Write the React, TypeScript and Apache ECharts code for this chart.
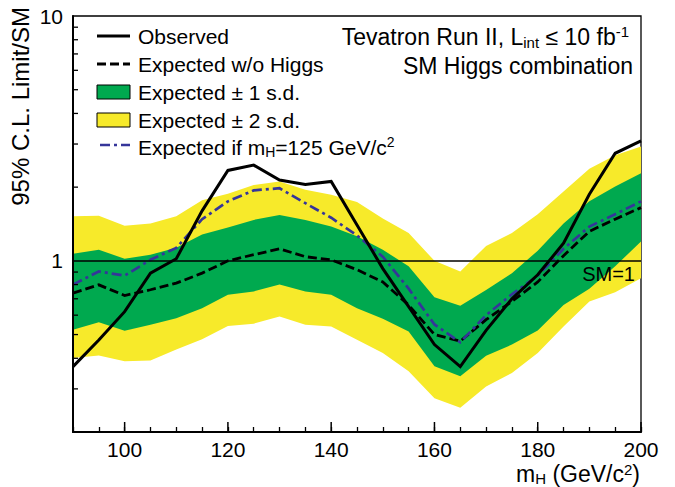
import React, { useEffect, useRef } from "react";
import * as echarts from "echarts";

// Higgs mass points (GeV/c^2)
const masses = [90, 95, 100, 105, 110, 115, 120, 125, 130, 135, 140, 145, 150, 155, 160, 165, 170, 175, 180, 185, 190, 195, 200];
// 95% CL limit / SM
const observed = [0.37, 0.475, 0.62, 0.89, 1.02, 1.6, 2.34, 2.46, 2.14, 2.05, 2.11, 1.4, 0.93, 0.65, 0.455, 0.37, 0.52, 0.7, 0.877, 1.18, 1.87, 2.75, 3.09];
const expected = [0.738, 0.798, 0.722, 0.762, 0.811, 0.891, 1.0, 1.06, 1.12, 1.04, 1.01, 0.92, 0.82, 0.66, 0.5, 0.47, 0.575, 0.683, 0.82, 1.05, 1.32, 1.48, 1.65];
const expH125 = [0.8, 0.905, 0.87, 1.01, 1.13, 1.48, 1.75, 1.94, 1.98, 1.72, 1.5, 1.27, 1.04, 0.77, 0.55, 0.465, 0.6, 0.73, 0.87, 1.12, 1.38, 1.55, 1.75];
const band1Hi = [1.07, 1.11, 1.02, 1.06, 1.13, 1.28, 1.37, 1.47, 1.54, 1.47, 1.38, 1.26, 1.11, 0.95, 0.71, 0.655, 0.76, 0.89, 1.1, 1.42, 1.75, 2.01, 2.28];
const band1Lo = [0.523, 0.561, 0.518, 0.548, 0.583, 0.641, 0.727, 0.75, 0.8, 0.75, 0.727, 0.641, 0.58, 0.515, 0.371, 0.338, 0.41, 0.455, 0.52, 0.66, 0.77, 0.95, 1.2];
const band2Hi = [1.52, 1.53, 1.39, 1.42, 1.52, 1.77, 1.88, 2.04, 2.11, 1.95, 1.86, 1.74, 1.49, 1.3, 1.0, 0.905, 1.15, 1.3, 1.55, 1.92, 2.38, 2.7, 2.93];
const band2Lo = [0.401, 0.411, 0.389, 0.392, 0.434, 0.479, 0.542, 0.554, 0.593, 0.548, 0.54, 0.476, 0.42, 0.354, 0.275, 0.251, 0.307, 0.348, 0.42, 0.54, 0.683, 0.745, 0.85];

// axis ticks
const xLabelTicks = [100, 120, 140, 160, 180, 200];
const yLabelTicks = [1, 10];
const yMinorTicks = [0.3, 0.4, 0.5, 0.6, 0.7, 0.8, 0.9, 2, 3, 4, 5, 6, 7, 8, 9];

const FONT = "'Liberation Sans', Arial, Helvetica, sans-serif";
const GREEN = "#00a94f";
const YELLOW = "#f7ea2a";
const BLUE = "#35359a";

function bandRenderer(lo: number[], hi: number[], color: string) {
  return (params: any, api: any) => {
    if (params.dataIndex !== 0) return null;
    const top = masses.map((m, i) => api.coord([m, hi[i]]));
    const bot = masses.map((m, i) => api.coord([m, lo[i]])).reverse();
    return {
      type: "polygon",
      shape: { points: top.concat(bot) },
      style: { fill: color },
    };
  };
}

function tickRenderer(params: any, api: any) {
  if (params.dataIndex !== 0) return null;
  const children: any[] = [];
  yMinorTicks.forEach((v) => {
    const p = api.coord([masses[0], v]);
    children.push({
      type: "line",
      shape: { x1: p[0], y1: p[1], x2: p[0] + 5, y2: p[1] },
      style: { stroke: "#000", lineWidth: 1.3 },
    });
  });
  xLabelTicks.forEach((m) => {
    const p = api.coord([m, 0.2]);
    children.push({
      type: "line",
      shape: { x1: p[0], y1: p[1], x2: p[0], y2: p[1] - 10 },
      style: { stroke: "#000", lineWidth: 1.5 },
    });
  });
  return { type: "group", children };
}

const toPairs = (vals: number[]) => masses.map((m, i) => [m, vals[i]]);

const subSup = (size: number) => ({
  sub: { fontSize: size, lineHeight: 10, verticalAlign: "bottom", fontFamily: FONT, fill: "#000" },
  sup: { fontSize: size, lineHeight: 10, verticalAlign: "top", fontFamily: FONT, fill: "#000" },
});

export default function App() {
  const ref = useRef<HTMLDivElement>(null);
  useEffect(() => {
    if (!ref.current) return;
    const chart = echarts.init(ref.current, null, { renderer: "svg" });
    const legendX1 = 97;
    const legendX2 = 130;
    const textX = 138;
    const option: any = {
      animation: false,
      backgroundColor: "#fff",
      textStyle: { fontFamily: FONT },
      grid: {
        left: 73,
        right: 34,
        top: 16,
        bottom: 55,
        show: true,
        borderColor: "#000",
        borderWidth: 1.3,
        backgroundColor: "transparent",
        outerBoundsMode: "none",
      },
      xAxis: {
        type: "value",
        min: 90,
        max: 200,
        interval: 5,
        position: "bottom",
        z: 10,
        axisLine: { show: true, onZero: false, lineStyle: { color: "#000", width: 2 } },
        axisTick: { show: true, inside: true, length: 5, lineStyle: { color: "#000", width: 1.3 } },
        axisLabel: {
          color: "#000",
          fontSize: 21,
          fontFamily: FONT,
          margin: 7,
          formatter: (v: number) => (xLabelTicks.indexOf(v) >= 0 ? String(v) : ""),
        },
        splitLine: { show: false },
      },
      yAxis: {
        type: "log",
        logBase: 10,
        min: 0.2,
        max: 10,
        z: 10,
        axisLine: { show: true, lineStyle: { color: "#000", width: 2 } },
        axisTick: { show: false },
        axisLabel: {
          color: "#000",
          fontSize: 21,
          fontFamily: FONT,
          margin: 10,
          formatter: (v: number) => {
            const r = Math.round(v * 1000) / 1000;
            return yLabelTicks.indexOf(r) >= 0 ? String(r) : "";
          },
        },
        splitLine: { show: false },
      },
      series: [
        {
          name: "Expected ± 2 s.d.",
          type: "custom",
          clip: true,
          z: 1,
          renderItem: bandRenderer(band2Lo, band2Hi, YELLOW),
          data: masses.map((m, i) => [m, band2Lo[i], band2Hi[i]]),
          encode: { x: 0, y: [1, 2] },
        },
        {
          name: "Expected ± 1 s.d.",
          type: "custom",
          clip: true,
          z: 2,
          renderItem: bandRenderer(band1Lo, band1Hi, GREEN),
          data: masses.map((m, i) => [m, band1Lo[i], band1Hi[i]]),
          encode: { x: 0, y: [1, 2] },
        },
        {
          name: "Expected w/o Higgs",
          type: "line",
          z: 3,
          symbol: "none",
          data: toPairs(expected),
          lineStyle: { color: "#000", width: 2.8, type: [9, 4], join: "miter" },
          markLine: {
            silent: true,
            symbol: "none",
            label: { show: false },
            lineStyle: { color: "#000", width: 1.5, type: "solid" },
            data: [{ yAxis: 1 }],
          },
        },
        {
          name: "Expected if mH=125 GeV/c2",
          type: "line",
          z: 4,
          symbol: "none",
          data: toPairs(expH125),
          lineStyle: { color: BLUE, width: 2.7, type: [10, 4, 3, 4], join: "miter" },
        },
        {
          name: "Observed",
          type: "line",
          z: 5,
          symbol: "none",
          data: toPairs(observed),
          lineStyle: { color: "#000", width: 3, join: "miter" },
        },
        {
          name: "ticks",
          type: "custom",
          clip: false,
          z: 6,
          renderItem: tickRenderer,
          data: [[masses[0], 1]],
          encode: { x: 0, y: 1 },
        },
      ],
      graphic: [
        // legend
        { type: "line", shape: { x1: legendX1, y1: 36, x2: legendX2, y2: 36 }, style: { stroke: "#000", lineWidth: 3 } },
        { type: "text", x: textX, y: 36, style: { text: "Observed", fontSize: 21, fontFamily: FONT, fill: "#000", verticalAlign: "middle" } },
        { type: "line", shape: { x1: legendX1, y1: 64, x2: legendX2, y2: 64 }, style: { stroke: "#000", lineWidth: 2.8, lineDash: [9, 4] } },
        { type: "text", x: textX, y: 64, style: { text: "Expected w/o Higgs", fontSize: 21, fontFamily: FONT, fill: "#000", verticalAlign: "middle" } },
        { type: "rect", shape: { x: legendX1, y: 85, width: legendX2 - legendX1, height: 14 }, style: { fill: GREEN, stroke: "#000", lineWidth: 1 } },
        { type: "text", x: textX, y: 92, style: { text: "Expected ± 1 s.d.", fontSize: 21, fontFamily: FONT, fill: "#000", verticalAlign: "middle" } },
        { type: "rect", shape: { x: legendX1, y: 113, width: legendX2 - legendX1, height: 14 }, style: { fill: YELLOW, stroke: "#000", lineWidth: 1 } },
        { type: "text", x: textX, y: 120, style: { text: "Expected ± 2 s.d.", fontSize: 21, fontFamily: FONT, fill: "#000", verticalAlign: "middle" } },
        { type: "line", shape: { x1: legendX1 + 3, y1: 145, x2: legendX2, y2: 145 }, style: { stroke: BLUE, lineWidth: 2.7, lineDash: [10, 4, 3, 4] } },
        {
          type: "text",
          x: textX,
          y: 147,
          style: {
            text: "Expected if m{sub|H}=125 GeV/c{sup|2}",
            fontSize: 21,
            lineHeight: 24,
            fontFamily: FONT,
            fill: "#000",
            verticalAlign: "middle",
            rich: subSup(14),
          },
        },
        // title block
        {
          type: "text",
          x: 629,
          y: 37,
          style: {
            text: "Tevatron Run II, L{sub|int} ≤ 10 fb{sup|-1}",
            fontSize: 23,
            lineHeight: 26,
            fontFamily: FONT,
            fill: "#000",
            align: "right",
            verticalAlign: "middle",
            rich: subSup(15),
          },
        },
        {
          type: "text",
          x: 633,
          y: 66,
          style: { text: "SM Higgs combination", fontSize: 23, fontFamily: FONT, fill: "#000", align: "right", verticalAlign: "middle" },
        },
        // SM=1 label
        {
          type: "text",
          x: 635,
          y: 274,
          z: 20,
          style: { text: "SM=1", fontSize: 20, fontFamily: FONT, fill: "#000", align: "right", verticalAlign: "middle" },
        },
        // axis titles
        {
          type: "text",
          x: 20,
          y: 7,
          rotation: Math.PI / 2,
          style: { text: "95% C.L. Limit/SM", fontSize: 24, fontFamily: FONT, fill: "#000", align: "right", verticalAlign: "middle" },
        },
        {
          type: "text",
          x: 640,
          y: 474,
          style: {
            text: "m{sub|H} (GeV/c{sup|2})",
            fontSize: 23,
            lineHeight: 24,
            fontFamily: FONT,
            fill: "#000",
            align: "right",
            verticalAlign: "middle",
            rich: subSup(15),
          },
        },
      ],
    };
    chart.setOption(option);
    return () => chart.dispose();
  }, []);
  return (
    <div
      ref={ref}
      style={{ position: "absolute", left: 0, top: 0, width: 675, height: 487, background: "#fff" }}
    />
  );
}
